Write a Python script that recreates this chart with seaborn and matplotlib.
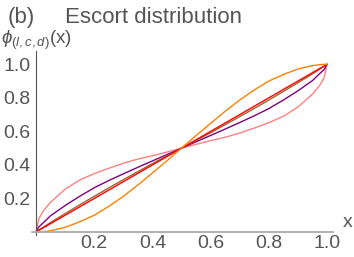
import pandas as pd
import matplotlib
matplotlib.use('Agg')
import matplotlib.pyplot as plt
import seaborn as sns
from matplotlib.ticker import MultipleLocator

# Values
x = [0, 0.01, 0.025, 0.05, 0.1, 0.15, 0.2, 0.25, 0.3, 0.35, 0.4, 0.45, 0.5,
     0.55, 0.6, 0.65, 0.7, 0.75, 0.8, 0.85, 0.9, 0.95, 0.975, 0.99, 1]

pink = [0, 0.08, 0.125, 0.178, 0.255, 0.31, 0.348, 0.38, 0.41, 0.435, 0.455, 0.477, 0.5,
        0.523, 0.545, 0.565, 0.59, 0.62, 0.652, 0.69, 0.745, 0.822, 0.875, 0.92, 1]
purple = [0, 0.031, 0.055, 0.097, 0.158, 0.213, 0.264, 0.307, 0.347, 0.386, 0.424, 0.462, 0.5,
          0.538, 0.576, 0.614, 0.653, 0.693, 0.736, 0.787, 0.842, 0.903, 0.945, 0.969, 1]
brown = [0, 0.012, 0.029, 0.057, 0.11, 0.162, 0.213, 0.263, 0.312, 0.36, 0.408, 0.454, 0.5,
         0.546, 0.592, 0.64, 0.688, 0.737, 0.787, 0.838, 0.89, 0.943, 0.971, 0.988, 1]
red = [0, 0.01, 0.025, 0.05, 0.1, 0.15, 0.2, 0.25, 0.3, 0.35, 0.4, 0.45, 0.5,
       0.55, 0.6, 0.65, 0.7, 0.75, 0.8, 0.85, 0.9, 0.95, 0.975, 0.99, 1]
orange = [0, 0.0003, 0.002, 0.008, 0.028, 0.061, 0.1, 0.153, 0.213, 0.28, 0.352, 0.425, 0.5,
          0.575, 0.648, 0.72, 0.787, 0.847, 0.9, 0.939, 0.972, 0.992, 0.998, 0.9997, 1]

curves = ['pink', 'purple', 'brown', 'red', 'orange']
colors = {'pink': '#FF8080', 'purple': '#800080', 'brown': '#996633',
          'red': '#FF0000', 'orange': '#FF8000'}

df = pd.concat([pd.DataFrame({'x': x, 'phi': vals, 'curve': name})
                for name, vals in zip(curves, [pink, purple, brown, red, orange])])

sns.set_style('white')
plt.rcParams['font.family'] = ['Liberation Sans', 'DejaVu Sans']
plt.rcParams['mathtext.fontset'] = 'custom'
plt.rcParams['mathtext.rm'] = 'Liberation Sans'
plt.rcParams['mathtext.it'] = 'Liberation Sans:italic'

fig = plt.figure(figsize=(3.54, 2.57), dpi=100)
ax = fig.add_axes([0.0893, 0.084, 0.851, 0.718])

sns.lineplot(data=df, x='x', y='phi', hue='curve', hue_order=curves, palette=colors,
             estimator=None, sort=False, legend=False, linewidth=1.0, ax=ax)

ax.set_xlim(-0.015, 1.02)
ax.set_ylim(-0.02, 1.08)
ax.set_xlabel('')
ax.set_ylabel('')

# Mathematica-like axes crossing at the origin
ax.spines['top'].set_visible(False)
ax.spines['right'].set_visible(False)
ax.spines['left'].set_position(('data', 0))
ax.spines['bottom'].set_position(('data', 0))
ax.spines['left'].set_color('#555555')
ax.spines['left'].set_linewidth(0.8)
ax.spines['bottom'].set_color('#aaaaaa')
ax.spines['bottom'].set_linewidth(1.3)

ticks = [0.2, 0.4, 0.6, 0.8, 1.0]
tick_labels = ['0.2', '0.4', '0.6', '0.8', '1.0']
ax.set_xticks(ticks)
ax.set_xticklabels(tick_labels)
ax.set_yticks(ticks)
ax.set_yticklabels(tick_labels)
ax.xaxis.set_minor_locator(MultipleLocator(0.05))
ax.yaxis.set_minor_locator(MultipleLocator(0.05))
ax.tick_params(which='major', direction='in', length=4, width=0.7, color='#888888',
               labelsize=14, labelcolor='#555555')
ax.tick_params(axis='x', which='major', pad=2)
ax.tick_params(axis='y', which='major', pad=4)
ax.tick_params(which='minor', direction='in', length=2.5, width=0.6, color='#888888')

# Labels
fig.text(8 / 354, 1 - 23 / 257, '(b)', fontsize=16, color='#555555', va='baseline')
fig.text(65 / 354, 1 - 23 / 257, 'Escort distribution', fontsize=16, color='#555555',
         va='baseline')
fig.text(1 / 354, 1 - 44 / 257, r'$\phi_{(l,c,d)}$(x)', fontsize=13.5, color='#555555',
         va='baseline')
fig.text(343 / 354, 1 - 227 / 257, 'x', fontsize=14, color='#555555', va='baseline')

fig.savefig('out.png', dpi=100)
